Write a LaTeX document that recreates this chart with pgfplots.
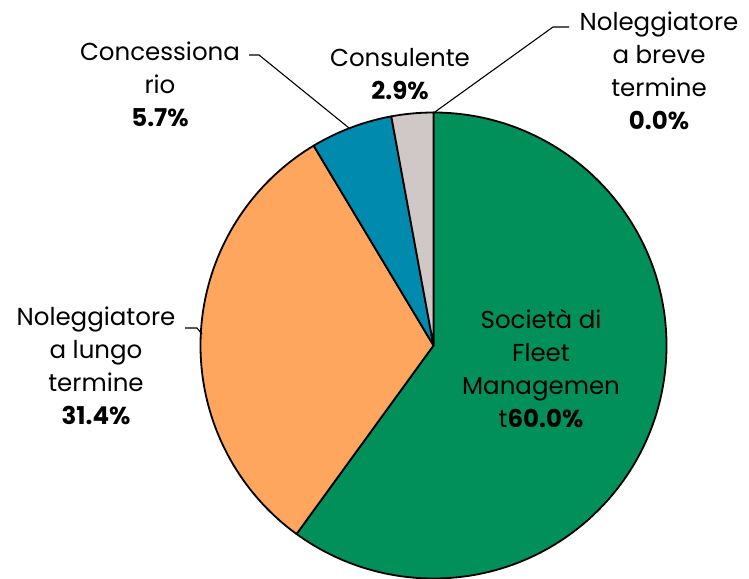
\documentclass[border=0pt]{standalone}
\usepackage{fontspec}
\setmainfont{Poppins}
\usepackage{pgfplots}
\usepackage{pgfplotstable}
\pgfplotsset{compat=1.18}
\definecolor{cfleet}{HTML}{02905A}
\definecolor{clungo}{HTML}{FFA65E}
\definecolor{cconc}{HTML}{008BAE}
\definecolor{ccons}{HTML}{CFC8C6}
\definecolor{cbreve}{HTML}{E0E0E0}
\tikzset{lbl/.style={font=\fontsize{24.5}{33}\selectfont, align=center, inner sep=0pt}}

% share of each category, drawn clockwise from 12 o'clock
\pgfplotstableread{
value color
60.0 cfleet
31.4 clungo
5.7 cconc
2.9 ccons
0.0 cbreve
}\piedata

\begin{document}
\begin{tikzpicture}
\path[use as bounding box] (0,0) rectangle (749pt,578pt);
\begin{axis}[
    at={(0,0)}, anchor=south west,
    x=1pt, y=1pt,
    xmin=0, xmax=749, ymin=0, ymax=578,
    hide axis, clip=false,
]
\def\angstart{90}
\foreach \i in {0,...,4}{
  \pgfplotstablegetelem{\i}{value}\of\piedata \let\v\pgfplotsretval
  \pgfplotstablegetelem{\i}{color}\of\piedata \let\c\pgfplotsretval
  \pgfmathsetmacro\angend{\angstart-3.6*\v}
  \edef\temp{\noexpand\filldraw[fill=\c, draw=black, line width=1.8pt, line join=round]
    (axis cs:433.5,232.5) -- ++(\angstart:233pt)
    arc[start angle=\angstart, end angle=\angend, radius=233pt] -- cycle;}
  \temp
  \xdef\angstart{\angend}
}

% leader lines
\draw[line width=1.1pt] (axis cs:249,523) -- (axis cs:259,523) -- (axis cs:349,450);
\draw[line width=1.1pt] (axis cs:569,551) -- (axis cs:553,551) -- (axis cs:433.5,465);
\draw[line width=1.1pt] (axis cs:185,250) -- (axis cs:197,250) -- (axis cs:202,244);

% labels
\node[lbl] at (axis cs:160,494) {Concessiona\\rio\\\textbf{5.7\%}};
\node[lbl] at (axis cs:400,504) {Consulente\\\textbf{2.9\%}};
\node[lbl] at (axis cs:659,507) {Noleggiatore\\a breve\\termine\\\textbf{0.0\%}};
\node[lbl] at (axis cs:96,212) {Noleggiatore\\a lungo\\termine\\\textbf{31.4\%}};
\node[lbl] at (axis cs:541,209) {Società di\\Fleet\\Managemen\\t\textbf{60.0\%}};
\end{axis}
\end{tikzpicture}
\end{document}
